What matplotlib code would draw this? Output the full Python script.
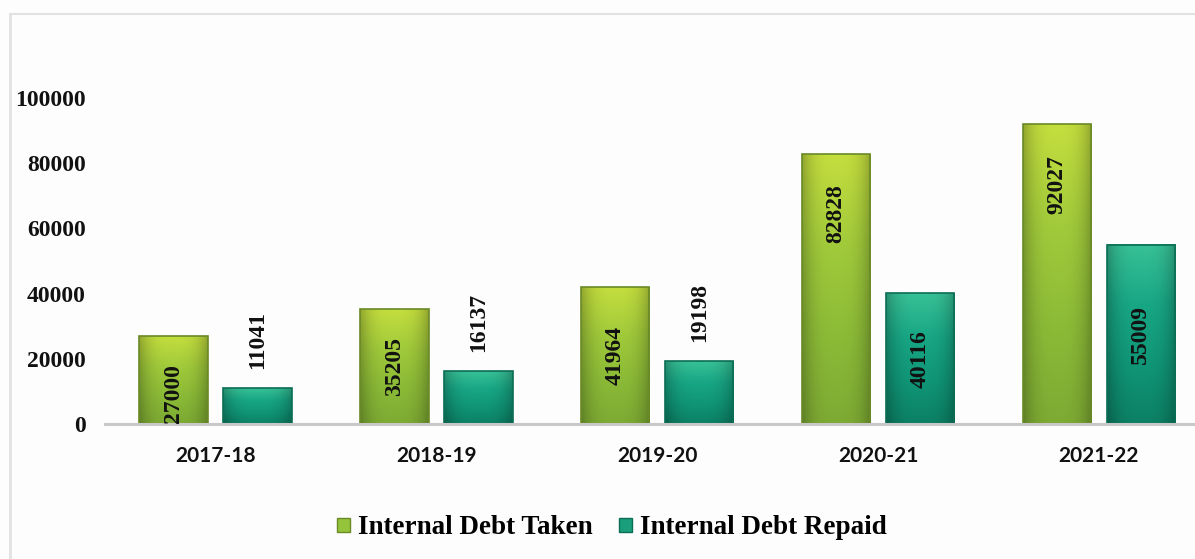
import numpy as np
import matplotlib
matplotlib.use("Agg")
import matplotlib.pyplot as plt
from matplotlib.patches import Rectangle
from matplotlib.lines import Line2D
from matplotlib.colors import LinearSegmentedColormap

categories = ["2017-18", "2018-19", "2019-20", "2020-21", "2021-22"]
debt_taken = [27000, 35205, 41964, 82828, 92027]
debt_repaid = [11041, 16137, 19198, 40116, 55009]
series_names = ["Internal Debt Taken", "Internal Debt Repaid"]
yticks = [0, 20000, 40000, 60000, 80000, 100000]
# label placement style per bar
taken_label_mode = ["inside_base", "center", "center", "inside_end", "inside_end"]
repaid_label_mode = ["outside_end", "outside_end", "outside_end", "center", "center"]

W, H = 1195, 559
fig = plt.figure(figsize=(W / 100, H / 100), dpi=100)
fig.patch.set_facecolor("#fdfdfd")

# chart-area border (left and top visible)
fig.add_artist(Line2D([10 / W, 10 / W], [0, 1 - 14 / H], transform=fig.transFigure,
                      color="#e2e2e2", lw=2))
fig.add_artist(Line2D([10 / W, 1], [1 - 14 / H, 1 - 14 / H], transform=fig.transFigure,
                      color="#e2e2e2", lw=1.5))

ax = fig.add_axes([105 / W, 1 - 424 / H, 1 - 105 / W, (424 - 33) / H])
ax.set_facecolor("none")

x = np.arange(len(categories))
bw = 0.31
gap = 0.07
off = (bw + gap) / 2

green_cmap = LinearSegmentedColormap.from_list("g", ["#c4de3e", "#a2cb3b", "#8cbb37", "#7daa33"])
teal_cmap = LinearSegmentedColormap.from_list("t", ["#38c196", "#18a785", "#109677", "#0c8064"])

def draw_bar(xc, h, cmap, edge):
    x0, x1 = xc - bw / 2, xc + bw / 2
    grad = np.linspace(0, 1, 256).reshape(-1, 1)
    hor = 1 - 0.25 * (np.abs(np.linspace(-1, 1, 64)) ** 3)
    rgba = cmap(grad)[:, :, :3] * np.ones((1, 64, 1))
    rgba = rgba * hor.reshape(1, -1, 1)
    ax.imshow(rgba, extent=[x0, x1, 0, h], aspect="auto", origin="upper",
              interpolation="bilinear", zorder=2)
    ax.add_patch(Rectangle((x0, 0), bw, h, fill=False, edgecolor=edge, lw=1.2, zorder=3))

for i in range(len(categories)):
    draw_bar(x[i] - off, debt_taken[i], green_cmap, "#6a8a26")
    draw_bar(x[i] + off, debt_repaid[i], teal_cmap, "#0b6e55")

ax.set_xlim(-0.5, 4.435)
ax.set_ylim(0, 120000)

def put_label(xc, v, mode):
    txt = str(v)
    kw = dict(rotation=90, ha="center", fontsize=17, fontweight="bold",
              family=["Liberation Serif"], color="#111111", zorder=5)
    if mode == "center":
        ax.text(xc, v / 2, txt, va="center", **kw)
    elif mode == "inside_base":
        ax.annotate(txt, (xc, 0), xytext=(0, 1), textcoords="offset points",
                    va="bottom", **kw)
    elif mode == "inside_end":
        ax.annotate(txt, (xc, v), xytext=(0, -22), textcoords="offset points",
                    va="top", **kw)
    else:
        ax.annotate(txt, (xc, v), xytext=(0, 14), textcoords="offset points",
                    va="bottom", **kw)

for i in range(len(categories)):
    put_label(x[i] - off, debt_taken[i], taken_label_mode[i])
    put_label(x[i] + off, debt_repaid[i], repaid_label_mode[i])

for s in ["top", "right", "left"]:
    ax.spines[s].set_visible(False)
ax.spines["bottom"].set_color("#c8c8c8")
ax.spines["bottom"].set_linewidth(2.2)
ax.spines["bottom"].set_zorder(4)

ax.set_yticks(yticks)
ax.set_yticklabels([str(t) for t in yticks], fontsize=17, fontweight="bold",
                   family="Liberation Serif", color="#111111")
ax.tick_params(axis="y", length=0, pad=14)
ax.set_xticks(x)
ax.set_xticklabels(categories, fontsize=15, fontweight="bold", family="Lato",
                   color="#111111")
ax.tick_params(axis="x", length=0, pad=16)

handles = [Rectangle((0, 0), 1, 1, facecolor="#94c43a", edgecolor="#6a8a26"),
           Rectangle((0, 0), 1, 1, facecolor="#1a9e7c", edgecolor="#0b6e55")]
fig.legend(handles, series_names, loc="center", bbox_to_anchor=(612 / W, 1 - 528 / H),
           ncol=2, frameon=False, handlelength=0.45, handleheight=0.45,
           handletextpad=0.3, columnspacing=1.0,
           prop={"family": "Liberation Serif", "weight": "bold", "size": 19.5})

fig.savefig("out.png", dpi=100, facecolor=fig.get_facecolor())
